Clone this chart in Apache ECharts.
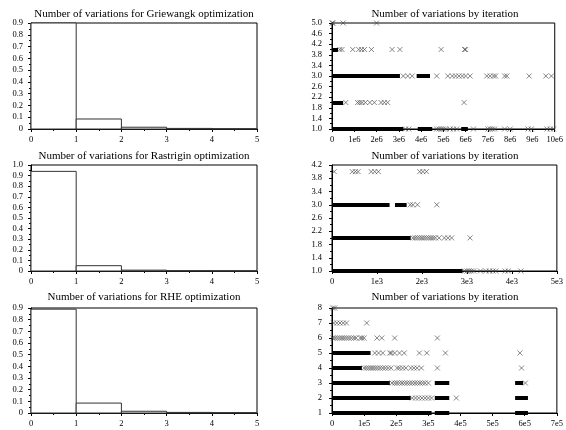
<!DOCTYPE html>
<html>
<head>
<meta charset="utf-8">
<script src="https://cdn.jsdelivr.net/npm/echarts@6/dist/echarts.min.js"></script>
<style>
    html, body { margin: 0; padding: 0; background: #fff; }
    #chart { width: 566px; height: 430px; }
</style>
</head>
<body>
<div id="chart"></div>
<script>
// histogram frequencies, one value per bin [0,1], [1,2], ... [4,5]
const binEdges = [0, 1, 2, 3, 4, 5];
const griewangkFreq = [0.9, 0.085, 0.015, 0.005, 0.002];
const rastriginFreq = [0.94, 0.05, 0.008, 0.003, 0.001];
const rheFreq = [0.89, 0.085, 0.015, 0.005, 0.003];

// iteration scatter: x in axis units (1e6, 1e3, 1e5), y = number of variations
// dense runs of overlapping markers: [y, xStart, xEnd]
const griewangkDense = [
    [4, 0, 0.27], [3, 0, 3.05], [3, 3.8, 4.4], [2, 0, 0.5],
    [1, 0, 3.2], [1, 3.85, 4.5], [1, 5.8, 6.1]
];
// single markers: [y, [x, x, ...]]
const griewangkPts = [
    [5, [0, 0.05, 0.5, 2.0]],
    [4, [0.35, 0.45, 0.93, 1.2, 1.33, 1.46, 1.77, 2.7, 3.05, 4.9, 5.95, 6.0]],
    [3, [3.2, 3.4, 3.6, 4.7, 5.2, 5.4, 5.55, 5.7, 5.85, 6.0, 6.2, 6.95, 7.1, 7.25, 7.35, 7.75, 7.85, 8.85, 9.6, 9.85]],
    [2, [0.62, 1.15, 1.25, 1.35, 1.5, 1.7, 1.9, 2.2, 2.35, 2.5, 5.93]],
    [1, [3.3, 3.45, 4.7, 4.8, 4.9, 5.0, 5.1, 5.3, 5.45, 5.6, 6.35, 7.0, 7.1, 7.2, 7.3, 7.75, 8.0, 8.8, 8.95, 9.65, 9.8, 9.95]]
];

const rastriginDense = [
    [3, 0, 1.28], [3, 1.4, 1.66], [2, 0, 1.75], [1, 0, 2.9]
];
const rastriginPts = [
    [4, [0.05, 0.45, 0.52, 0.58, 0.87, 0.95, 1.03, 1.95, 2.02, 2.1]],
    [3, [1.74, 1.8, 1.9, 2.33]],
    [2, [1.8, 1.85, 1.9, 1.95, 2.0, 2.05, 2.1, 2.15, 2.2, 2.25, 2.3, 2.38, 2.5, 2.58, 2.66, 3.07]],
    [1, [2.95, 3.0, 3.05, 3.1, 3.15, 3.3, 3.42, 3.5, 3.58, 3.64, 3.85, 3.92, 4.2]]
];

const rheDense = [
    [5, 0, 1.2], [4, 0, 0.93],
    [3, 0, 1.8], [3, 3.2, 3.65], [3, 5.7, 5.95],
    [2, 0, 2.45], [2, 3.2, 3.65], [2, 5.7, 6.1],
    [1, 0, 3.1], [1, 3.2, 3.65], [1, 5.7, 6.1]
];
const rhePts = [
    [8, [0.02, 0.08]],
    [7, [0.05, 0.15, 0.25, 0.35, 0.45, 1.08]],
    [6, [0.03, 0.1, 0.17, 0.24, 0.31, 0.38, 0.45, 0.52, 0.6, 0.68, 0.75, 0.88, 0.93, 1.0, 1.4, 1.55, 1.95, 3.28]],
    [5, [1.33, 1.45, 1.58, 1.8, 1.85, 1.95, 2.1, 2.25, 2.72, 2.95, 3.53, 5.85]],
    [4, [1.0, 1.07, 1.14, 1.21, 1.28, 1.35, 1.42, 1.5, 1.58, 1.66, 1.75, 1.84, 2.03, 2.1, 2.2, 2.3, 2.45, 2.55, 2.65, 2.78, 3.28, 5.9]],
    [3, [1.87, 1.95, 2.02, 2.1, 2.18, 2.26, 2.34, 2.42, 2.5, 2.58, 2.66, 2.74, 2.82, 2.9, 3.0, 6.02]],
    [2, [2.5, 2.6, 2.7, 2.8, 2.9, 3.0, 3.1, 3.87]]
];

const font = 'Liberation Serif';
const crossSymbol = 'path://M0,0L10,10M10,0L0,10';

// panel layout: rows and columns in pixels
const rowTops = [23, 165, 308];
const rowHeights = [106, 106, 105];
const titleTops = [9, 151, 292];
const colLefts = [31, 332];
const plotWidth = 226;

let grids = [], xAxes = [], yAxes = [], titles = [], series = [];

function axisBase(min, max, interval, formatter) {
    return {
        type: 'value', min: min, max: max, interval: interval,
        axisLine: {show: true, onZero: false, lineStyle: {color: '#000', width: 1}},
        axisTick: {show: true, length: 3, lineStyle: {color: '#000'}},
        minorTick: {show: true, splitNumber: 2, length: 2, lineStyle: {color: '#000'}},
        splitLine: {show: false},
        axisLabel: {fontFamily: font, fontSize: 8.5, color: '#000', formatter: formatter}
    };
}

function addPanel(row, col, title) {
    let idx = grids.length;
    grids.push({
        left: colLefts[col], top: rowTops[row], width: plotWidth, height: rowHeights[row],
        show: true, borderColor: '#000', borderWidth: 1
    });
    titles.push({
        text: title, left: colLefts[col] + plotWidth / 2, top: titleTops[row], textAlign: 'center', padding: 0,
        textStyle: {fontFamily: font, fontSize: 11, fontWeight: 'normal', color: '#000'}
    });
    return idx;
}

// left column: histograms
function addHistogram(row, title, freq, yMax) {
    let idx = addPanel(row, 0, title);
    let xa = axisBase(0, 5, 1, v => String(v));
    xa.gridIndex = idx;
    xa.axisLabel.margin = 6;
    let ya = axisBase(0, yMax, 0.1, v => v === 0 ? '0' : v.toFixed(1));
    ya.gridIndex = idx;
    ya.axisLabel.margin = 8;
    xAxes.push(xa);
    yAxes.push(ya);
    series.push({
        type: 'custom', xAxisIndex: idx, yAxisIndex: idx,
        data: freq.map((f, i) => [binEdges[i], binEdges[i + 1], f]),
        encode: {x: [0, 1], y: 2},
        renderItem: function (params, api) {
            let p0 = api.coord([api.value(0), api.value(2)]);
            let p1 = api.coord([api.value(1), 0]);
            return {
                type: 'rect',
                shape: {x: p0[0], y: p0[1], width: p1[0] - p0[0], height: p1[1] - p0[1]},
                style: {fill: '#fff', stroke: '#333', lineWidth: 1}
            };
        }
    });
}

// right column: variations by iteration
// yMin shifts the axis so its ticks start at the first label
function addScatter(row, dense, pts, xMax, xSuffix, yMin, yMax, yStep, yDigits) {
    let idx = addPanel(row, 1, 'Number of variations by iteration');
    let xa = axisBase(0, xMax, 1, v => v === 0 ? '0' : v + xSuffix);
    xa.gridIndex = idx;
    xa.axisLabel.margin = 6;
    xa.minorTick.show = false;
    let ya = axisBase(0, yMax - yMin, yStep, v => (v + yMin).toFixed(yDigits));
    ya.gridIndex = idx;
    ya.axisLabel.margin = 10;
    xAxes.push(xa);
    yAxes.push(ya);
    series.push({
        type: 'lines', coordinateSystem: 'cartesian2d', xAxisIndex: idx, yAxisIndex: idx,
        polyline: false, silent: true,
        lineStyle: {color: '#000', width: 4, opacity: 1},
        data: dense.map(d => ({coords: [[d[1], d[0] - yMin], [d[2], d[0] - yMin]]}))
    });
    let scatterData = [];
    pts.forEach(p => p[1].forEach(x => scatterData.push([x, p[0] - yMin])));
    series.push({
        type: 'scatter', xAxisIndex: idx, yAxisIndex: idx,
        symbol: crossSymbol, symbolSize: 5,
        itemStyle: {color: 'rgba(0,0,0,0)', borderColor: '#444', borderWidth: 0.8},
        data: scatterData
    });
}

addHistogram(0, 'Number of variations for Griewangk optimization', griewangkFreq, 0.9);
addScatter(0, griewangkDense, griewangkPts, 10, 'e6', 1, 5, 0.4, 1);
addHistogram(1, 'Number of variations for Rastrigin optimization', rastriginFreq, 1.0);
addScatter(1, rastriginDense, rastriginPts, 5, 'e3', 1, 4.2, 0.4, 1);
addHistogram(2, 'Number of variations for RHE optimization', rheFreq, 0.9);
addScatter(2, rheDense, rhePts, 7, 'e5', 1, 8, 1, 0);

let myChart = echarts.init(document.getElementById('chart'), null, {renderer: 'canvas'});
myChart.setOption({
    animation: false,
    backgroundColor: '#fff',
    title: titles,
    grid: grids,
    xAxis: xAxes,
    yAxis: yAxes,
    series: series
});
</script>
</body>
</html>
